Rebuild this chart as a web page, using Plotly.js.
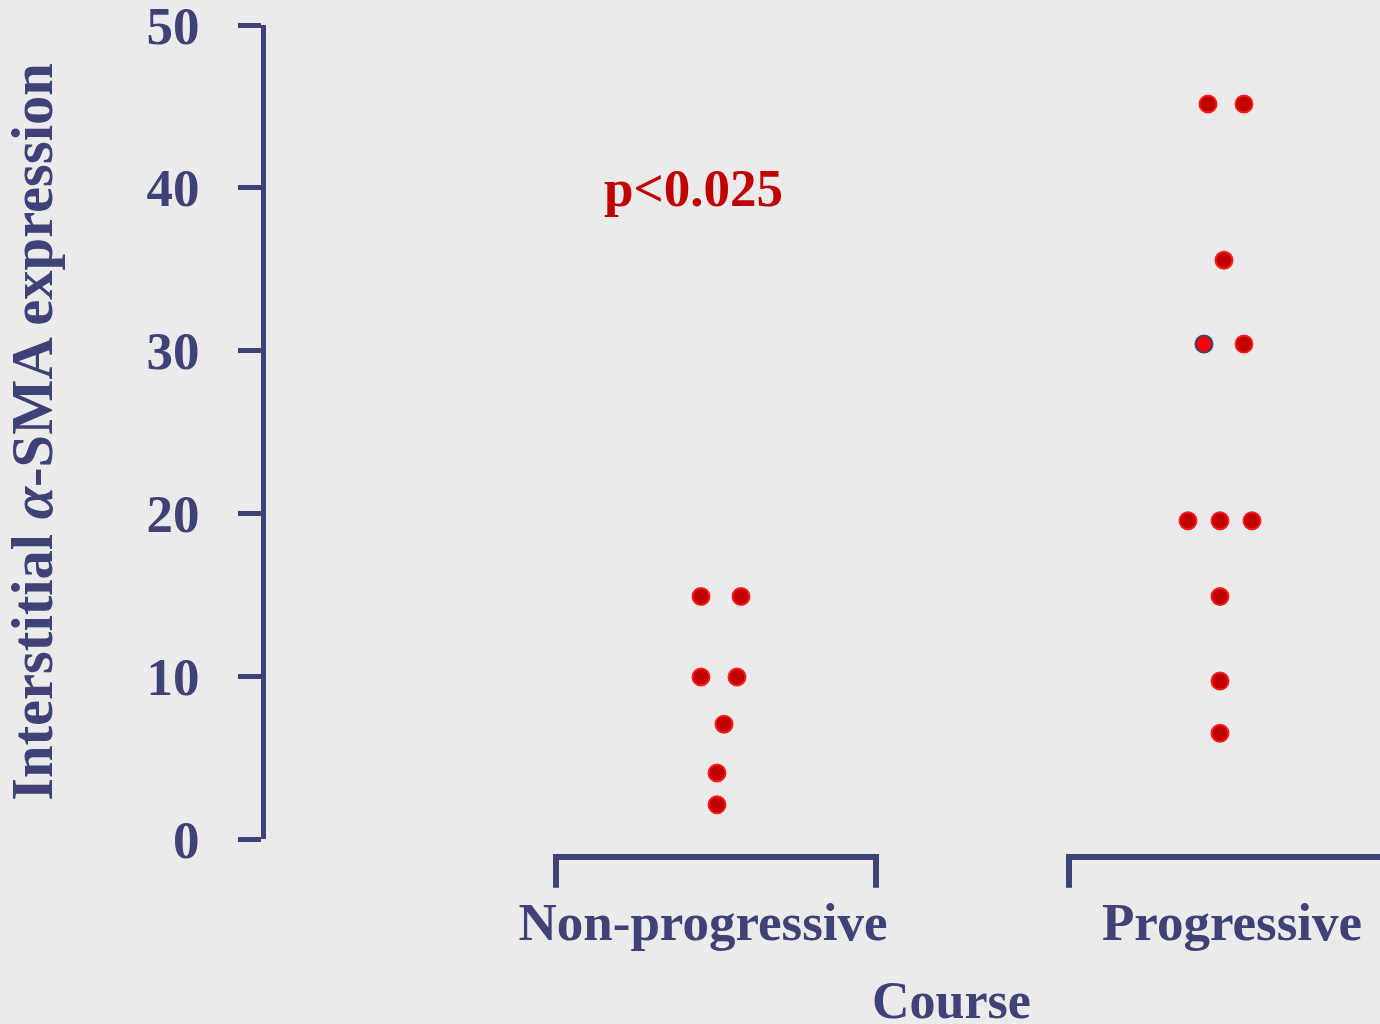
<!DOCTYPE html>
<html>
<head>
<meta charset="utf-8">
<script src="https://cdn.plot.ly/plotly-3.0.1.min.js"></script>
<style>html,body{margin:0;padding:0;background:#ebebeb;overflow:hidden;}</style>
</head>
<body>
<div id="chart" style="width:1380px;height:1024px;"></div>
<script>
// Categories and tick labels
const categories = ["Non-progressive", "Progressive"];
const categoryCenters = [1, 2];
const tickLabelPositions = [0.966, 2.024];
const yTickValues = [0, 10, 20, 30, 40, 50];

// Non-progressive group: values and horizontal jitter (in category units)
const nonProgValues = [14.9, 14.9, 9.95, 9.95, 7.05, 4.05, 2.1];
const nonProgJitter = [-0.038, 0.042, -0.038, 0.034, 0.008, -0.006, -0.006];

// Progressive group
const progValues = [45.15, 45.15, 35.55, 30.4, 19.55, 19.55, 19.55, 14.9, 9.7, 6.5];
const progJitter = [-0.024, 0.048, 0.008, 0.048, -0.064, 0, 0.064, 0, 0, 0];

// Highlighted progressive point (blue outline)
const highlightValues = [30.4];
const highlightJitter = [-0.032];

const pText = "p<0.025";
const pPos = {x: 0.946, y: 40};

const axisColor = "#3f4177";
const fontFam = '"Liberation Serif", "Times New Roman", Times, serif';

const markerMain = {size: 17, color: "#c00000", line: {color: "#ff1a1a", width: 2}};

const traces = [
  {
    type: "scatter", mode: "markers", name: categories[0],
    x: nonProgJitter.map(j => categoryCenters[0] + j),
    y: nonProgValues, marker: markerMain, hoverinfo: "y", cliponaxis: false
  },
  {
    type: "scatter", mode: "markers", name: categories[1],
    x: progJitter.map(j => categoryCenters[1] + j),
    y: progValues, marker: markerMain, hoverinfo: "y", cliponaxis: false
  },
  {
    type: "scatter", mode: "markers", name: categories[1] + " (highlight)",
    x: highlightJitter.map(j => categoryCenters[1] + j),
    y: highlightValues,
    marker: {size: 17, color: "#ff0000", line: {color: axisColor, width: 2}}, hoverinfo: "y", cliponaxis: false
  }
];

// Bracket shapes under each category (x in data units, y in paper units)
const bracketTop = -0.022, bracketBottom = -0.06;
const brackets = [[0.672, 1.312], [1.698, 2.6]];
const shapes = brackets.map(([a, b]) => ({
  type: "path", xref: "x", yref: "paper",
  path: `M ${a},${bracketBottom} L ${a},${bracketTop} L ${b},${bracketTop} L ${b},${bracketBottom}`,
  line: {color: axisColor, width: 6}
}));

const layout = {
  width: 1380, height: 1024,
  margin: {l: 266, r: 0, t: 25, b: 185},
  paper_bgcolor: "#ebebeb", plot_bgcolor: "#ebebeb",
  showlegend: false,
  font: {family: fontFam, color: axisColor, size: 52, weight: "bold"},
  xaxis: {
    range: [0.092, 2.32],
    showgrid: false, zeroline: false, showline: false,
    tickmode: "array", tickvals: tickLabelPositions, ticktext: categories,
    ticks: "", ticklabelstandoff: 47,
    tickfont: {family: fontFam, size: 53, color: axisColor, weight: "bold"},
    fixedrange: true
  },
  yaxis: {
    range: [0, 50],
    showgrid: false, zeroline: false,
    showline: true, linecolor: axisColor, linewidth: 5,
    ticks: "outside", ticklen: 23, tickwidth: 5, tickcolor: axisColor,
    tickmode: "array", tickvals: yTickValues,
    ticklabelstandoff: 28, ticklabeloverflow: "allow",
    tickfont: {family: fontFam, size: 53, color: axisColor, weight: "bold"},
    title: {
      text: "Interstitial <i>α</i>-SMA expression",
      font: {family: fontFam, size: 58.6, color: axisColor, weight: "bold"},
      standoff: 76
    },
    fixedrange: true
  },
  shapes: shapes,
  annotations: [
    {
      text: pText, x: pPos.x, y: pPos.y, xref: "x", yref: "y",
      showarrow: false, xanchor: "center", yanchor: "middle",
      font: {family: fontFam, size: 53, color: "#c00000", weight: "bold"}
    },
    {
      text: "Course", x: 0.615, y: -0.198, xref: "paper", yref: "paper",
      showarrow: false, xanchor: "center", yanchor: "middle",
      font: {family: fontFam, size: 52, color: axisColor, weight: "bold"}
    }
  ]
};

Plotly.newPlot("chart", traces, layout, {displayModeBar: false, staticPlot: true});
</script>
</body>
</html>
